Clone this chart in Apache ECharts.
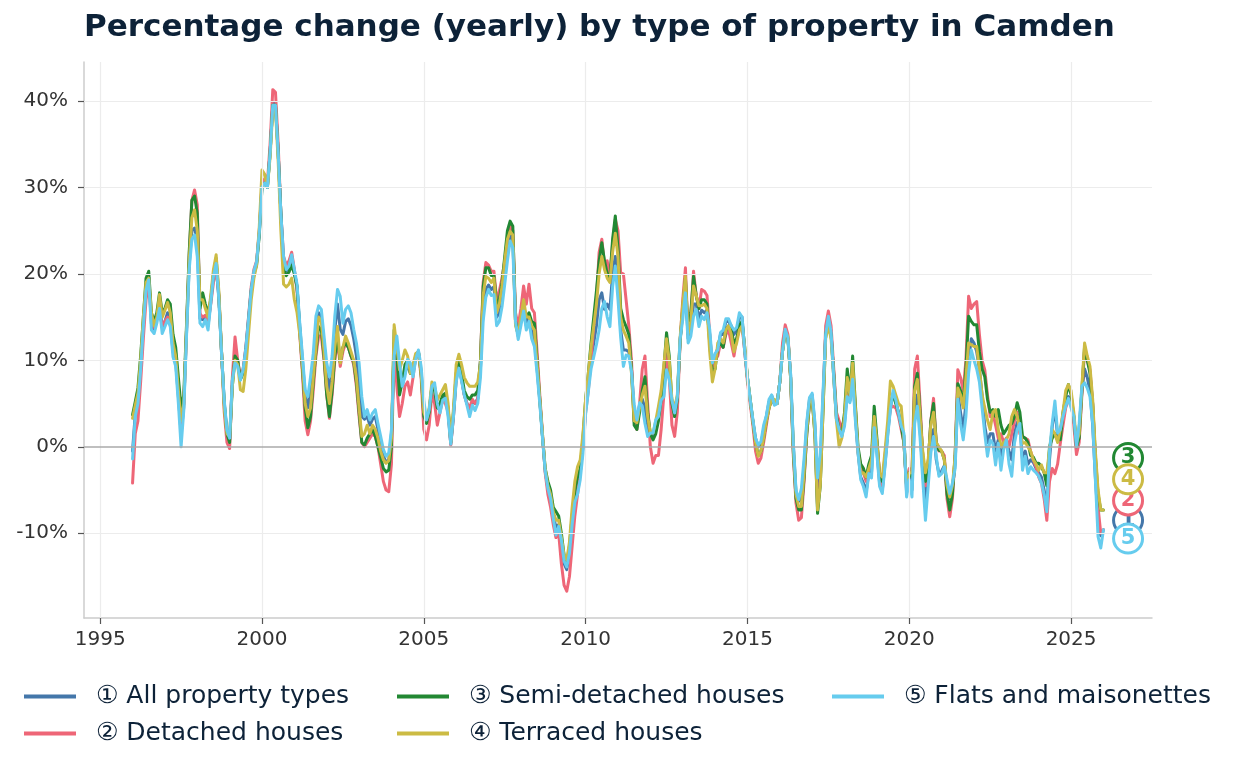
<!DOCTYPE html>
<html>
<head>
<meta charset="utf-8">
<script src="https://cdn.jsdelivr.net/npm/echarts@6/dist/echarts.min.js"></script>
<style>html,body{margin:0;padding:0;background:#fff}#chart{width:1236px;height:770px}</style>
</head>
<body>
<div id="chart"></div>
<script>
// Monthly observations, January 1996 onwards (one row per year)
const firstYear = 1996;

const seriesNames = ['① All property types', '② Detached houses', '③ Semi-detached houses', '④ Terraced houses', '⑤ Flats and maisonettes'];
const seriesColors = ['#4477AA', '#EE6677', '#228833', '#CCBB44', '#66CCEE'];

const allTypes = [
-0.5,3.8,5.3,9.2,14.2,18.5,19.6,14.2,13.6,14.8,16.5,13.8,
14.5,15.5,14.5,11.0,9.8,5.8,1.5,4.6,13.0,21.0,25.0,25.3,
23.5,14.8,14.7,15.0,14.0,16.7,19.8,21.2,17.2,10.8,5.2,1.7,
0.8,7.6,10.5,9.5,7.8,8.9,11.3,14.8,18.2,20.2,21.3,24.8,
30.3,30.7,30.0,34.0,39.7,39.7,34.0,27.0,21.5,20.3,20.8,22.0,
20.3,18.5,14.0,10.0,6.0,4.5,6.5,9.5,13.5,15.5,15.0,12.0,
8.5,6.5,9.0,13.5,16.5,13.6,13.0,14.5,14.8,14.0,12.5,10.5,
7.5,3.5,3.2,3.5,2.5,3.2,3.5,2.0,0.3,-1.0,-1.8,-1.5,
1.5,12.0,11.0,7.5,7.0,8.5,9.5,8.5,8.5,10.3,11.0,8.8,
4.5,2.9,4.2,7.0,6.8,4.5,4.3,5.6,5.8,4.2,0.3,3.6,
7.8,9.3,7.8,6.0,5.0,4.2,5.2,5.0,5.6,9.0,16.0,18.2,
18.7,18.2,18.5,15.0,15.5,17.0,20.0,22.5,24.5,24.0,14.5,12.8,
14.5,16.2,14.0,15.0,13.3,12.6,9.0,5.3,1.2,-2.8,-4.8,-6.0,
-8.0,-9.3,-9.0,-11.0,-13.5,-14.2,-12.5,-9.0,-6.0,-4.5,-3.0,0.0,
4.5,7.0,10.0,12.0,14.0,17.0,17.8,15.9,16.5,15.9,20.0,22.0,
19.0,13.5,11.2,11.2,11.0,9.0,4.0,3.0,4.8,5.5,4.5,2.0,
1.5,1.2,2.5,3.5,5.5,7.5,10.5,8.5,5.0,3.5,5.5,12.3,
15.5,18.5,12.5,13.5,16.5,16.5,14.8,15.8,15.5,15.8,13.0,9.5,
10.3,11.4,13.0,13.0,14.5,14.5,14.0,13.0,13.5,15.0,15.0,11.0,
8.0,5.5,3.0,1.0,0.0,0.3,2.0,3.5,5.2,5.9,4.9,5.0,
7.5,11.0,13.5,12.6,8.3,0.3,-5.3,-6.3,-5.8,-2.2,2.5,5.5,
6.0,2.5,-5.0,-2.0,5.5,13.0,15.0,13.3,8.0,3.2,2.0,1.3,
2.8,6.5,5.3,8.5,3.6,-0.7,-3.5,-4.2,-5.2,-3.0,-3.0,2.8,
-0.5,-4.2,-5.0,-2.0,1.5,4.5,6.2,5.2,3.9,2.4,1.3,-5.3,
-3.5,-5.0,4.0,6.0,2.0,-3.0,-6.5,-3.5,0.5,2.0,-1.5,-3.1,
-2.8,-2.2,-4.5,-6.0,-4.8,-2.0,6.2,4.0,2.0,5.0,10.0,12.5,
12.0,11.0,9.0,6.0,2.4,0.5,1.5,1.5,-0.5,0.8,-1.0,0.0,
0.8,-0.5,-1.5,1.5,2.8,2.5,-1.5,-0.5,-2.0,-1.5,-1.8,-2.5,
-3.0,-3.5,-5.0,-7.0,-1.5,2.3,4.5,1.2,2.0,3.0,5.0,5.8,
5.0,3.5,0.0,2.0,6.5,9.0,8.0,6.5,2.5,-3.5,-8.5,-10.3,
-9.6];

const detached = [
-4.2,1.5,3.0,7.5,12.5,17.0,19.0,15.0,13.8,14.8,15.5,14.0,
14.5,15.0,14.5,12.0,10.5,6.5,2.5,5.0,13.5,22.0,28.5,29.7,
28.0,15.4,15.0,15.2,14.5,16.5,19.0,20.5,17.5,11.0,4.0,0.5,
-0.2,8.0,12.7,10.0,8.0,9.0,11.5,15.0,18.5,20.5,21.5,25.0,
30.5,31.0,30.5,35.0,41.3,41.0,35.0,27.0,22.0,21.0,21.5,22.5,
20.5,18.0,13.0,8.5,3.0,1.4,3.0,6.5,10.5,12.8,12.8,10.0,
6.0,3.3,6.0,10.0,12.5,9.3,11.0,12.0,11.5,10.5,9.5,7.0,
3.5,0.5,0.0,0.5,1.0,1.5,1.2,0.0,-2.0,-4.0,-5.0,-5.2,
-2.0,11.6,7.0,3.5,5.0,7.0,7.5,6.0,8.0,10.5,11.0,8.0,
2.0,0.8,2.5,6.2,5.0,2.5,4.0,5.5,5.0,4.0,0.2,3.5,
8.0,9.5,7.8,6.0,5.0,4.5,5.5,5.0,5.5,10.0,19.0,21.3,
21.0,20.3,20.3,17.0,18.0,19.5,21.5,24.0,25.5,25.0,15.5,14.0,
16.0,18.6,16.5,18.8,16.0,15.5,11.0,6.0,1.5,-3.0,-5.5,-7.0,
-9.0,-10.5,-10.0,-13.5,-16.0,-16.7,-15.0,-11.5,-8.0,-5.5,-3.0,0.0,
4.0,6.5,10.0,14.0,17.0,22.5,24.0,21.0,21.5,19.5,23.5,26.3,
25.0,20.1,20.0,17.0,14.0,10.0,3.0,2.0,5.0,9.0,10.5,5.0,
0.0,-1.9,-1.0,-1.0,2.0,6.0,11.0,8.0,2.5,1.2,4.0,12.0,
17.0,20.7,13.0,15.0,20.3,17.5,16.0,18.2,18.0,17.5,13.0,9.0,
10.0,10.5,12.0,11.5,13.0,13.5,12.0,10.5,12.5,13.5,14.0,11.0,
7.5,5.0,2.5,-0.5,-1.9,-1.3,0.5,2.5,4.5,5.5,5.0,5.0,
7.5,12.0,14.1,13.0,8.0,-1.0,-6.5,-8.5,-8.2,-4.0,1.5,5.0,
5.5,2.0,-7.0,-4.0,5.0,14.0,15.7,14.0,9.0,4.0,3.0,2.0,
3.5,6.0,6.0,9.0,4.5,-0.5,-2.2,-3.0,-4.0,-2.5,-1.5,3.5,
0.5,-3.0,-4.5,-1.0,2.0,4.5,4.7,4.5,3.5,2.0,0.5,-4.5,
-2.5,-3.0,9.0,10.5,5.0,-1.0,-4.5,-2.0,3.0,5.6,0.5,-0.5,
-0.5,-1.0,-6.0,-8.1,-6.0,-1.0,8.9,8.0,6.5,10.0,17.4,16.0,
16.5,16.8,13.0,10.0,8.9,6.0,3.5,3.9,2.5,1.0,1.5,0.5,
1.0,0.0,1.5,3.0,4.0,1.5,1.2,1.0,0.8,-0.5,-1.5,-2.3,
-3.5,-4.2,-6.0,-8.5,-4.0,-2.5,-3.1,-2.0,0.4,2.5,4.5,5.4,
5.5,2.5,-0.9,0.5,6.0,11.2,10.0,8.9,5.0,-1.5,-7.0,-10.0,
-9.6];

const semiDetached = [
3.7,5.2,6.8,10.5,15.0,19.5,20.3,15.5,14.5,15.5,17.8,15.5,
16.0,17.0,16.5,13.0,11.5,8.0,4.5,6.0,14.0,22.5,28.5,29.0,
27.0,16.0,17.8,16.5,15.5,17.0,20.0,21.8,17.5,11.0,5.0,1.5,
0.5,7.0,10.5,10.0,7.8,8.5,11.0,14.5,18.0,20.0,21.0,24.5,
30.0,30.5,30.0,34.0,39.5,39.5,34.0,27.0,20.5,19.8,20.2,21.0,
20.0,18.5,13.5,9.0,4.5,2.2,3.5,7.5,11.0,13.9,13.5,10.5,
6.0,3.5,6.5,10.5,12.8,9.8,11.5,12.0,11.5,10.5,9.8,7.5,
4.0,0.5,0.2,1.0,1.5,2.0,1.2,0.0,-1.2,-2.5,-2.9,-2.7,
0.0,13.5,10.5,6.0,7.5,9.5,10.0,8.5,9.0,10.5,11.0,8.5,
3.5,2.7,4.0,7.0,6.5,4.5,5.0,6.0,6.2,4.5,0.5,4.0,
8.5,10.0,8.5,6.5,5.8,5.5,6.0,6.0,6.5,10.0,18.5,20.7,
20.7,19.8,19.8,16.5,17.0,19.0,22.0,25.0,26.1,25.5,14.5,13.0,
14.5,16.0,15.0,15.5,14.5,14.3,10.0,5.5,1.2,-2.5,-4.0,-5.0,
-7.0,-7.5,-8.0,-10.0,-12.5,-13.5,-11.5,-8.0,-5.0,-3.5,-2.5,1.0,
5.5,8.5,12.0,15.0,18.0,21.5,23.6,21.5,20.0,19.5,24.0,26.7,
23.0,16.0,14.7,13.9,13.0,9.0,2.5,2.0,4.0,6.5,8.1,4.0,
1.5,0.8,1.5,3.0,5.5,9.0,13.2,10.5,5.0,3.5,5.5,12.0,
16.0,19.5,13.0,15.5,19.7,17.5,16.0,17.0,17.0,16.5,12.0,8.5,
9.0,11.6,12.0,11.5,13.5,14.0,13.5,12.0,12.5,14.0,14.5,11.5,
8.0,5.5,3.0,0.5,-1.0,-0.5,1.0,3.0,4.5,5.5,5.0,5.0,
7.5,11.0,13.3,12.5,8.0,-0.5,-6.0,-7.3,-7.3,-3.5,1.5,5.0,
5.5,1.5,-7.7,-4.5,4.0,13.0,14.5,13.0,8.5,3.5,2.0,1.5,
4.0,9.0,6.0,10.5,5.0,0.0,-2.0,-2.5,-3.5,-2.0,-1.0,4.7,
1.0,-3.5,-4.0,-1.5,2.0,5.0,6.0,5.0,4.0,2.5,0.5,-4.5,
-3.0,-3.5,7.0,8.5,4.0,-1.0,-4.0,-2.0,3.0,5.0,0.5,-0.4,
-0.5,-1.5,-5.5,-7.3,-5.5,-1.0,7.3,6.5,5.0,9.0,15.1,14.5,
14.1,14.1,11.0,9.0,8.1,5.5,4.0,4.3,3.5,4.3,2.5,1.5,
2.0,2.5,2.7,3.5,5.1,4.0,1.2,1.0,0.5,-1.0,-1.2,-1.9,
-1.9,-2.3,-3.0,-4.5,0.0,1.0,1.5,0.8,0.8,4.0,5.8,7.2,
6.0,3.5,0.0,1.0,6.5,11.6,10.0,8.5,5.0,-1.0,-5.5,-7.3,
-7.3];

const terraced = [
3.3,4.8,6.2,10.0,15.0,19.0,19.5,15.5,14.0,15.0,17.6,15.0,
15.8,16.7,15.5,12.0,10.5,6.5,3.0,5.0,13.5,21.5,26.5,27.4,
25.0,17.0,17.0,16.0,15.0,17.5,20.5,22.2,18.0,11.0,4.5,1.5,
1.2,7.0,10.0,9.5,6.6,6.4,9.0,13.0,17.0,19.5,21.0,25.5,
32.0,31.5,30.0,33.5,39.0,39.0,33.0,25.0,18.8,18.5,18.8,19.5,
17.0,15.5,13.0,9.5,5.0,3.5,4.5,8.0,11.5,15.0,14.5,11.0,
7.0,5.0,7.5,11.5,13.9,9.7,11.5,12.8,12.0,11.0,10.0,8.0,
4.5,1.2,1.5,2.5,1.5,2.5,2.0,1.0,-0.5,-1.5,-1.9,-1.6,
1.0,14.1,11.5,8.9,10.0,11.2,10.5,8.5,9.5,10.8,11.0,8.5,
4.0,3.2,4.5,7.5,7.0,5.4,6.0,6.6,7.2,5.0,0.5,4.5,
9.5,10.7,9.5,8.0,7.4,7.0,7.0,7.0,7.5,9.5,17.5,19.7,
19.5,19.0,19.5,15.5,16.5,18.5,21.5,24.0,24.9,24.5,14.0,13.0,
15.0,17.0,15.0,15.0,14.0,13.5,9.5,5.5,1.5,-2.5,-4.5,-5.5,
-7.5,-8.5,-8.5,-10.5,-12.5,-13.1,-11.0,-7.0,-4.0,-2.3,-1.5,1.5,
5.5,8.5,11.5,14.0,16.5,20.0,22.0,20.5,19.5,19.0,22.5,24.7,
22.0,15.0,13.5,12.8,12.0,8.5,3.0,2.8,4.5,6.0,7.0,3.5,
1.6,1.6,3.0,4.7,6.5,9.5,12.5,10.0,5.5,4.5,6.0,12.5,
16.5,19.7,13.0,14.5,18.6,17.5,16.3,16.3,16.5,16.0,11.0,7.5,
9.0,12.0,12.5,12.0,13.5,14.0,13.0,11.0,12.0,13.5,14.0,11.5,
8.0,5.5,3.0,0.5,-1.1,-0.5,1.0,3.0,4.5,5.5,5.5,5.0,
7.5,11.0,13.2,12.8,8.0,0.0,-5.5,-6.9,-6.9,-3.0,2.0,5.2,
5.5,1.5,-7.3,-4.5,4.0,12.5,14.0,12.5,8.0,3.0,0.0,1.0,
3.5,8.0,6.0,9.7,4.5,-0.5,-3.1,-3.0,-3.5,-2.5,-1.5,3.5,
0.5,-3.1,-3.5,-0.5,3.0,7.6,7.0,6.0,5.0,4.7,1.0,-4.6,
-3.0,-3.0,6.5,7.8,3.5,-0.5,-3.0,-1.5,2.5,4.0,0.5,0.0,
-0.5,-1.5,-4.5,-5.8,-4.5,-1.0,6.8,6.0,4.5,8.0,12.0,11.8,
11.6,11.6,9.0,6.0,4.5,3.1,2.0,4.0,4.3,2.0,0.0,0.5,
0.8,1.5,3.5,4.3,3.5,2.0,0.4,0.5,0.0,-0.5,-1.5,-2.0,
-2.7,-2.1,-3.0,-3.0,-0.3,2.0,1.5,0.5,2.0,4.0,6.5,7.2,
6.5,4.0,0.5,1.5,7.0,12.0,10.5,9.3,5.5,-0.5,-5.0,-7.3,
-7.3];

const flats = [
-1.4,3.5,5.0,8.9,13.9,18.1,19.3,13.5,13.1,14.3,16.0,13.1,
13.9,14.7,13.9,10.4,9.3,5.0,0.0,4.2,12.7,20.5,24.0,24.5,
22.0,14.3,13.9,14.7,13.5,16.6,19.7,21.2,17.0,10.8,5.4,1.9,
1.0,7.7,9.7,9.3,7.7,8.9,11.4,14.8,18.2,20.3,21.4,24.7,
30.0,30.5,30.0,34.0,39.5,39.5,34.0,27.0,22.0,20.5,20.9,22.2,
20.5,18.8,14.3,10.5,6.6,5.8,8.1,10.8,15.1,16.3,15.9,12.8,
9.7,8.1,10.5,15.1,18.2,17.4,14.3,15.9,16.3,15.5,13.6,12.0,
9.7,5.8,3.5,4.3,3.1,3.9,4.3,2.7,1.2,-0.3,-1.1,-0.7,
2.0,10.5,12.8,9.7,7.0,8.1,10.1,9.7,8.1,10.1,11.2,9.3,
5.4,3.1,4.3,7.0,7.4,5.0,3.9,5.4,5.6,3.5,0.3,3.5,
7.5,9.1,7.6,6.0,4.8,3.5,4.8,4.2,5.0,8.0,14.5,17.3,
18.2,17.5,17.6,14.0,14.5,16.2,18.8,21.5,23.8,23.0,14.5,12.4,
14.0,15.7,13.5,14.5,12.5,11.6,8.5,5.0,1.0,-2.8,-4.8,-6.0,
-8.3,-10.2,-9.2,-10.8,-13.2,-13.9,-12.3,-9.0,-6.4,-5.5,-3.8,-0.8,
3.8,6.4,9.0,10.4,11.8,13.5,16.0,16.8,15.0,13.9,18.5,20.9,
17.0,12.6,9.3,10.6,10.5,8.7,4.9,3.1,5.1,4.7,2.7,1.2,
1.6,1.6,3.1,3.5,5.4,5.8,8.9,7.8,5.4,3.9,5.8,12.4,
14.7,17.8,12.0,12.8,15.1,15.9,13.9,15.1,14.7,15.5,13.6,9.7,
10.8,11.2,13.2,13.5,14.8,14.8,14.0,13.5,13.8,15.5,15.0,11.0,
8.0,5.5,3.2,1.0,0.2,0.6,2.5,3.6,5.5,6.0,4.8,5.0,
7.5,11.0,13.6,12.6,8.5,0.5,-5.0,-6.1,-4.8,-1.3,2.9,5.7,
6.2,2.9,-3.6,-0.7,6.2,13.0,15.1,13.3,8.0,3.2,2.0,1.2,
2.4,5.8,5.1,7.8,3.1,-0.7,-3.8,-4.6,-5.8,-3.1,-3.6,2.2,
-0.9,-4.6,-5.4,-2.3,1.2,4.3,6.5,5.4,3.9,2.4,1.6,-5.8,
-3.8,-5.8,2.7,4.7,1.0,-3.8,-8.5,-4.6,-0.7,1.2,-1.1,-3.4,
-3.1,-2.3,-3.8,-5.4,-4.2,-2.5,5.5,2.7,0.8,3.5,8.5,11.2,
10.0,9.0,7.5,4.5,1.5,-1.1,0.8,0.4,-2.1,0.4,-2.7,-0.3,
0.8,-2.0,-3.4,0.4,2.0,2.7,-2.7,-1.1,-3.1,-2.3,-2.7,-3.0,
-3.4,-4.2,-5.5,-7.5,-0.5,2.7,5.3,1.6,2.0,3.5,4.7,5.6,
4.5,3.5,0.0,2.7,7.0,7.4,6.8,5.8,2.7,-3.8,-10.4,-11.7,
-9.6];

const yTicks = [-10, 0, 10, 20, 30, 40];
const xTicks = [1995, 2000, 2005, 2010, 2015, 2020, 2025];

// End-of-line number badges (already spread apart in the original)
const badgeNumbers = ['1', '2', '3', '4', '5'];
const badgeValues = [-8.5, -6.2, -1.3, -3.75, -10.6];
const badgeYear = 2026.76;

const FONT = 'DejaVu Sans';
const INK = '#0d2238';

const valueSets = [allTypes, detached, semiDetached, terraced, flats];

const lineSeries = valueSets.map((vals, k) => ({
  name: seriesNames[k],
  type: 'line',
  symbol: 'none',
  showSymbol: false,
  z: 3,
  animation: false,
  emphasis: { disabled: true },
  lineStyle: { color: seriesColors[k], width: 3, join: 'round', cap: 'round' },
  itemStyle: { color: seriesColors[k] },
  data: vals.map((v, i) => [firstYear + i / 12, v])
}));

const gridLineStyle = { color: '#ececec', width: 1.2, type: 'solid' };
const gridSeries = {
  type: 'line',
  data: [],
  z: 1,
  silent: true,
  animation: false,
  markLine: {
    silent: true,
    animation: false,
    symbol: ['none', 'none'],
    label: { show: false },
    emphasis: { disabled: true },
    data: [
      ...yTicks.filter(v => v !== 0).map(v => ({ yAxis: v, lineStyle: gridLineStyle })),
      ...xTicks.map(v => ({ xAxis: v, lineStyle: gridLineStyle })),
      { yAxis: 0, lineStyle: { color: '#aaaaaa', width: 1.6, type: 'solid' } }
    ]
  }
};

const badgeSeries = badgeValues.map((v, k) => ({
  type: 'scatter',
  z: 10 + k,
  silent: true,
  animation: false,
  symbol: 'circle',
  symbolSize: 29,
  itemStyle: { color: '#ffffff', borderColor: seriesColors[k], borderWidth: 3, opacity: 1 },
  label: {
    show: true, position: 'inside', formatter: badgeNumbers[k],
    color: seriesColors[k], fontSize: 21, fontWeight: 'bold', fontFamily: FONT
  },
  data: [[badgeYear, v]]
}));

const legendCommon = {
  orient: 'vertical',
  top: 684,
  padding: 0,
  icon: 'rect',
  itemWidth: 52,
  itemHeight: 4,
  itemGap: 12,
  selectedMode: false,
  textStyle: { fontSize: 25, color: INK, fontFamily: FONT, lineHeight: 24, padding: [0, 0, 0, 15] }
};

const chart = echarts.init(document.getElementById('chart'), null, { renderer: 'canvas' });
chart.setOption({
  animation: false,
  backgroundColor: '#ffffff',
  title: {
    text: 'Percentage change (yearly) by type of property in Camden',
    left: 84, top: 12, padding: 0,
    textStyle: { fontSize: 31, fontWeight: 'bold', color: INK, fontFamily: FONT }
  },
  legend: [
    Object.assign({}, legendCommon, { left: 24, data: [seriesNames[0], seriesNames[1]] }),
    Object.assign({}, legendCommon, { left: 397, data: [seriesNames[2], seriesNames[3]] }),
    Object.assign({}, legendCommon, { left: 832, data: [seriesNames[4]] })
  ],
  grid: { left: 84, right: 84, top: 62, bottom: 152, containLabel: false },
  xAxis: {
    type: 'value', min: 1994.5, max: 2027.5,
    splitLine: { show: false },
    axisLine: { show: true, onZero: false, lineStyle: { color: '#cccccc', width: 1.5 } },
    axisTick: { show: true, customValues: xTicks, length: 6, lineStyle: { color: '#555555', width: 1.2 } },
    axisLabel: { customValues: xTicks, formatter: v => String(v), fontSize: 20, color: '#333333', fontFamily: FONT, margin: 12 }
  },
  yAxis: {
    type: 'value', min: -19.8, max: 44.5,
    splitLine: { show: false },
    axisLine: { show: true, onZero: false, lineStyle: { color: '#cccccc', width: 1.5 } },
    axisTick: { show: true, customValues: yTicks, length: 6, lineStyle: { color: '#555555', width: 1.2 } },
    axisLabel: { customValues: yTicks, formatter: v => v + '%', fontSize: 20, color: '#333333', fontFamily: FONT, margin: 16, padding: [3, 0, 0, 0] }
  },
  series: [gridSeries, ...lineSeries, ...badgeSeries]
});
</script>
</body>
</html>
